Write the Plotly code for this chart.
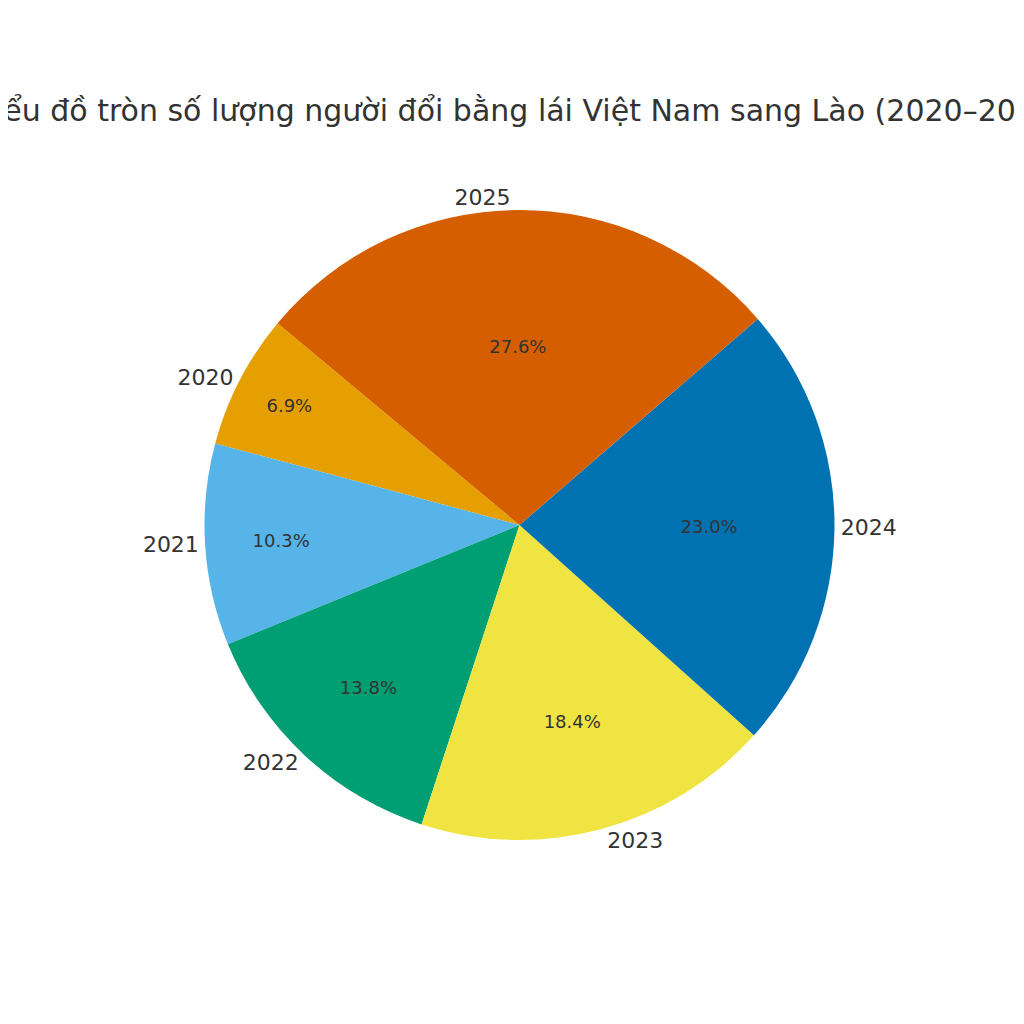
import plotly.graph_objects as go

years = ["2020", "2021", "2022", "2023", "2024", "2025"]
counts = [6, 9, 12, 16, 20, 24]
colors = ["#E69F00", "#56B4E9", "#009E73", "#F0E442", "#0072B2", "#D55E00"]

common = dict(labels=years, values=counts, sort=False, direction="counterclockwise",
              rotation=285, hole=0, showlegend=False, hoverinfo="skip")

fig = go.Figure()
# outer year labels (transparent slices)
fig.add_trace(go.Pie(**common, marker=dict(colors=["rgba(0,0,0,0)"] * 6),
                     textinfo="label", textposition="outside",
                     outsidetextfont=dict(size=22, color="#333333")))
# coloured slices with percentages
fig.add_trace(go.Pie(**common, marker=dict(colors=colors),
                     texttemplate="%{percent:.1%}", textposition="inside",
                     insidetextorientation="horizontal",
                     insidetextfont=dict(size=18, color="#333333")))

fig.update_layout(
    width=1024, height=1024,
    font=dict(family="DejaVu Sans", color="#333333"),
    title=dict(text="Biểu đồ tròn số lượng người đổi bằng lái Việt Nam sang Lào (2020–2025)",
               x=0.5, xanchor="center", y=0.9, yanchor="middle",
               font=dict(size=30, color="#333333")),
    margin=dict(l=0, r=0, t=202, b=192),
    paper_bgcolor="white",
)
fig.write_html("out.html")
